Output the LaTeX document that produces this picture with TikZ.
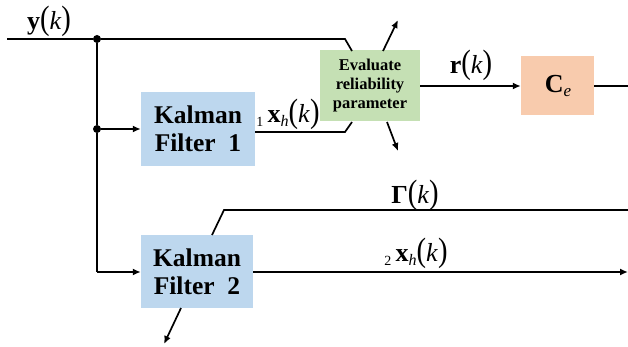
\documentclass[tikz,border=0pt]{standalone}
\usepackage{fontspec}
\setmainfont{Liberation Serif}
\usetikzlibrary{arrows.meta}
\definecolor{kfblue}{HTML}{BDD7EE}
\definecolor{evalgreen}{HTML}{C5E0B4}
\definecolor{cepeach}{HTML}{F8CBAD}
\newcommand{\tallpar}[1]{\scalebox{1.1}[1.3]{#1}}
\newcommand{\smallsub}[2]{{\fontsize{#1}{#1}\selectfont\raisebox{-4pt}{#2}}}
\begin{document}
\begin{tikzpicture}[x=1pt,y=-1pt,
  wire/.style={line width=1.7pt},
  arr/.style={wire,-{Latex[length=8pt,width=7pt]}},
  kfbox/.style={fill=kfblue,inner sep=0pt,align=center,
    font=\fontsize{25.5}{28}\selectfont\bfseries},
  evalbox/.style={fill=evalgreen,inner sep=0pt,align=center,
    font=\fontsize{16.5}{19}\selectfont\bfseries},
  cebox/.style={fill=cepeach,inner sep=0pt},
  lbl/.style={inner sep=0pt,font=\fontsize{26}{28}\selectfont},
  junction/.style={circle,fill=black,inner sep=0pt,minimum size=8pt}]
\useasboundingbox (0,0) rectangle (628,347);

% blocks
\node[kfbox,minimum width=114pt,minimum height=74pt] (kf1) at (198,129) {Kalman\\Filter\ \ 1};
\node[kfbox,minimum width=112pt,minimum height=73pt] (kf2) at (197,271.5) {Kalman\\Filter\ \ 2};
\node[evalbox,minimum width=100pt,minimum height=71pt] (eval) at (370,86) {Evaluate\\reliability\\parameter};
\node[cebox,minimum width=73pt,minimum height=59pt] (ce) at (557.5,86) {};

% junctions and free ends
\node[junction] (j1) at (97,39) {};
\node[junction] (j2) at (97,129) {};
\coordinate (yin) at (7,39);
\coordinate (topbend) at (345,39);
\coordinate (evaltop) at (352,51);
\coordinate (k1out) at (255,132);
\coordinate (k1bend) at (345,132);
\coordinate (evalbot) at (352,122);
\coordinate (jbot) at (97,272);
\coordinate (upstart) at (383,51);
\coordinate (upend) at (398,20);
\coordinate (dnstart) at (387,122);
\coordinate (dnend) at (398,151);
\coordinate (ceout) at (628,86);
\coordinate (gstart) at (212,235);
\coordinate (gbend) at (224,210);
\coordinate (gend) at (628,210);
\coordinate (x2end) at (628,272);
\coordinate (k2dstart) at (181,308);
\coordinate (k2dend) at (164,344);

% measurement path
\draw[wire] (yin) -- (j1) -- (topbend) -- (evaltop);
\draw[wire] (j1) -- (j2) -- (jbot);
\draw[arr] (j2) -- (kf1.west);
\draw[arr] (jbot) -- (kf2.west |- jbot);

% filter 1 estimate into the evaluation block
\draw[wire] (k1out) -- (k1bend) -- (evalbot);

% evaluation outputs
\draw[arr] (upstart) -- (upend);
\draw[arr] (dnstart) -- (dnend);
\draw[arr] (eval.east) -- (ce.west);
\draw[wire] (ce.east) -- (ceout);

% filter 2 outputs
\draw[wire] (gstart) -- (gbend) -- (gend);
\draw[arr] (kf2.east |- x2end) -- (x2end);
\draw[arr] (k2dstart) -- (k2dend);

% labels
\node[lbl] (ylbl) at (49,21) {\textbf{y}\tallpar{(}\textit{k}\tallpar{)}};
\node[lbl] (x1lbl) at (288,114) {\smallsub{14}{1}\,\textbf{x}\smallsub{16}{\textit{h}}\tallpar{(}\textit{k}\tallpar{)}};
\node[lbl] (rlbl) at (471,65) {\textbf{r}\tallpar{(}\textit{k}\tallpar{)}};
\node[lbl] (celbl) at (558,86) {\textbf{C}\smallsub{17}{\textit{e}}};
\node[lbl] (glbl) at (415,195) {\textbf{Γ}\tallpar{(}\textit{k}\tallpar{)}};
\node[lbl] (x2lbl) at (416,253) {\smallsub{14}{2}\,\textbf{x}\smallsub{16}{\textit{h}}\tallpar{(}\textit{k}\tallpar{)}};
\end{tikzpicture}
\end{document}
